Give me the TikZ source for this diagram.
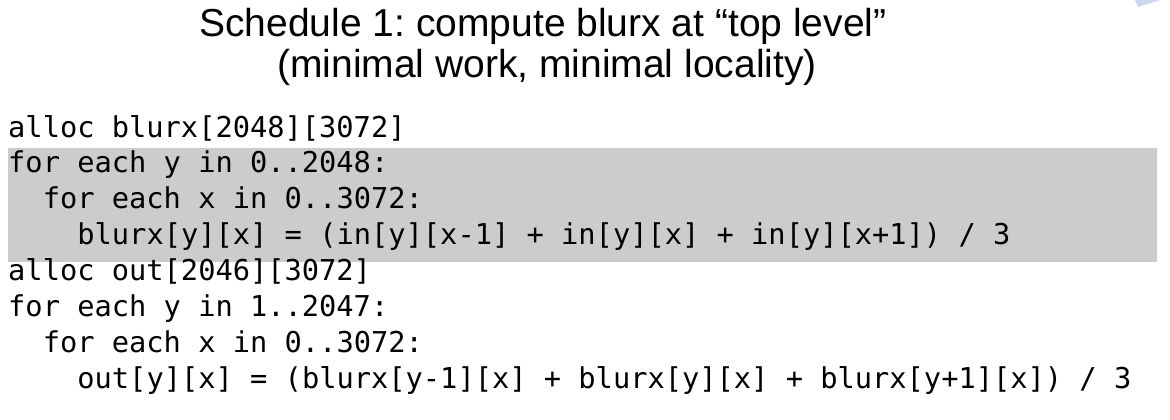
\documentclass[tikz,border=0pt]{standalone}
\usepackage{fontspec}
\setmainfont{Liberation Sans}
\newfontfamily\codefont{DejaVu Sans Mono}
\definecolor{codebg}{HTML}{CCCCCC}
\definecolor{cornerblue}{HTML}{C8D6F0}
\begin{document}
\frenchspacing
\begin{tikzpicture}[x=1pt,y=-1pt,
  titletext/.style={font=\fontsize{39}{47}\selectfont, inner sep=0pt, anchor=base},
  codeline/.style={font=\codefont\fontsize{28.7}{36}\selectfont, inner sep=0pt, anchor=base west},
  band/.style={fill=codebg, draw=none, inner sep=0pt, anchor=north west}
]
\useasboundingbox (0,0) rectangle (1170,420);
\fill[white] (0,0) rectangle (1170,420);
\node[band, minimum width=1149pt, minimum height=114pt] (bandbox) at (8,148) {};
\fill[cornerblue] (1135,0) -- (1160,0) -- (1138,7) -- cycle;
\node[titletext] (t1) at (543,36.5) {Schedule 1: compute blurx at “top level”};
\node[titletext] (t2) at (547,77.5) {(minimal work, minimal locality)};
\node[codeline] (l1) at (8,137) {alloc blurx[2048][3072]};
\node[codeline] (l2) at (8,172.9) {for each y in 0..2048:};
\node[codeline] (l3) at (42.6,208.8) {for each x in 0..3072:};
\node[codeline] (l4) at (77.2,244.7) {blurx[y][x] = (in[y][x-1] + in[y][x] + in[y][x+1]) / 3};
\node[codeline] (l5) at (8,280.6) {alloc out[2046][3072]};
\node[codeline] (l6) at (8,316.5) {for each y in 1..2047:};
\node[codeline] (l7) at (42.6,352.4) {for each x in 0..3072:};
\node[codeline] (l8) at (77.2,388.3) {out[y][x] = (blurx[y-1][x] + blurx[y][x] + blurx[y+1][x]) / 3};
\end{tikzpicture}
\end{document}
